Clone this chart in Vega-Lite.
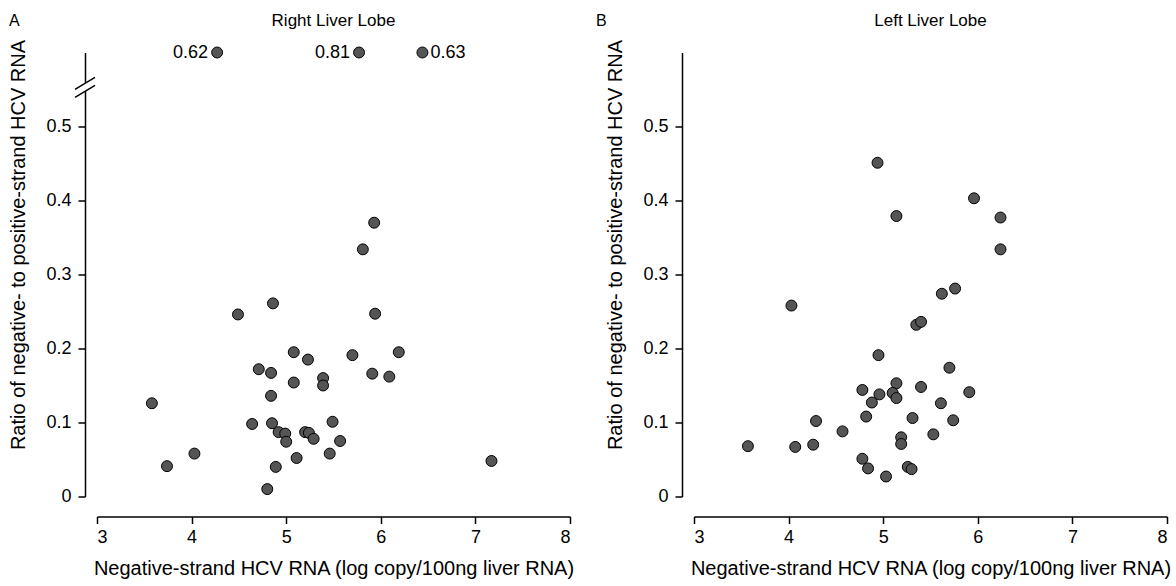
{
  "$schema": "https://vega.github.io/schema/vega-lite/v6.json",
  "padding": {"left": 8, "top": 11.5, "right": 5, "bottom": 2},
  "autosize": {"type": "pad"},
  "spacing": 20,
  "config": {
    "font": "Liberation Sans",
    "view": {"stroke": null},
    "axis": {
      "domainColor": "#000", "tickColor": "#000", "labelColor": "#000", "titleColor": "#000",
      "domainWidth": 1.5, "tickWidth": 1.5, "grid": false,
      "labelFontSize": 18, "titleFontSize": 20, "titleFontWeight": "normal", "tickSize": 7,
      "labelFont": "Liberation Sans", "titleFont": "Liberation Sans"
    },
    "title": {"fontWeight": "normal", "color": "#000", "font": "Liberation Sans"}
  },
  "datasets": {
    "right": [
      {"x": 5.93, "ratio": 0.370}, {"x": 5.81, "ratio": 0.334}, {"x": 4.86, "ratio": 0.261},
      {"x": 4.49, "ratio": 0.246}, {"x": 5.94, "ratio": 0.247}, {"x": 5.08, "ratio": 0.195},
      {"x": 5.23, "ratio": 0.185}, {"x": 5.70, "ratio": 0.191}, {"x": 4.71, "ratio": 0.172},
      {"x": 4.84, "ratio": 0.167}, {"x": 5.91, "ratio": 0.166}, {"x": 6.19, "ratio": 0.195},
      {"x": 6.09, "ratio": 0.162}, {"x": 5.08, "ratio": 0.154}, {"x": 5.39, "ratio": 0.160},
      {"x": 5.39, "ratio": 0.150}, {"x": 4.84, "ratio": 0.136}, {"x": 3.58, "ratio": 0.126},
      {"x": 4.64, "ratio": 0.098}, {"x": 4.85, "ratio": 0.099}, {"x": 4.92, "ratio": 0.087},
      {"x": 4.99, "ratio": 0.085}, {"x": 5.00, "ratio": 0.074}, {"x": 5.20, "ratio": 0.087},
      {"x": 5.24, "ratio": 0.086}, {"x": 5.29, "ratio": 0.078}, {"x": 5.49, "ratio": 0.101},
      {"x": 5.57, "ratio": 0.075}, {"x": 5.46, "ratio": 0.058}, {"x": 4.03, "ratio": 0.058},
      {"x": 3.74, "ratio": 0.041}, {"x": 5.11, "ratio": 0.052}, {"x": 4.89, "ratio": 0.040},
      {"x": 4.80, "ratio": 0.010}, {"x": 7.17, "ratio": 0.048}
    ],
    "rightOff": [
      {"x": 4.27, "ratio": 0.62}, {"x": 5.77, "ratio": 0.81}, {"x": 6.44, "ratio": 0.63}
    ],
    "left": [
      {"x": 4.94, "ratio": 0.451}, {"x": 5.14, "ratio": 0.379}, {"x": 4.03, "ratio": 0.258},
      {"x": 5.96, "ratio": 0.403}, {"x": 6.24, "ratio": 0.377}, {"x": 6.24, "ratio": 0.334},
      {"x": 5.76, "ratio": 0.281}, {"x": 5.62, "ratio": 0.274}, {"x": 5.35, "ratio": 0.232},
      {"x": 5.40, "ratio": 0.236}, {"x": 4.95, "ratio": 0.191}, {"x": 5.70, "ratio": 0.174},
      {"x": 5.14, "ratio": 0.153}, {"x": 5.40, "ratio": 0.148}, {"x": 5.91, "ratio": 0.141},
      {"x": 5.10, "ratio": 0.140}, {"x": 5.14, "ratio": 0.133}, {"x": 5.61, "ratio": 0.126},
      {"x": 4.78, "ratio": 0.144}, {"x": 4.96, "ratio": 0.138}, {"x": 4.88, "ratio": 0.127},
      {"x": 5.31, "ratio": 0.106}, {"x": 5.74, "ratio": 0.103}, {"x": 4.82, "ratio": 0.108},
      {"x": 4.29, "ratio": 0.102}, {"x": 5.53, "ratio": 0.084}, {"x": 5.19, "ratio": 0.080},
      {"x": 5.19, "ratio": 0.071}, {"x": 4.57, "ratio": 0.088}, {"x": 3.57, "ratio": 0.068},
      {"x": 4.07, "ratio": 0.067}, {"x": 4.26, "ratio": 0.070}, {"x": 4.78, "ratio": 0.051},
      {"x": 4.84, "ratio": 0.038}, {"x": 5.26, "ratio": 0.040}, {"x": 5.30, "ratio": 0.037},
      {"x": 5.03, "ratio": 0.027}
    ]
  },
  "hconcat": [
    {
      "title": {"text": "A", "anchor": "start", "frame": "bounds", "fontSize": 16, "offset": -17},
      "vconcat": [
        {
          "width": 473, "height": 444,
          "title": {"text": "Right Liver Lobe", "fontSize": 17, "offset": 9},
          "layer": [
            {
              "data": {"name": "right"},
              "mark": {"type": "point", "filled": true, "size": 120, "fill": "#555", "stroke": "#000", "strokeWidth": 1, "opacity": 1},
              "encoding": {
                "x": {"field": "x", "type": "quantitative", "scale": {"domain": [3, 8], "nice": false},
                  "title": "Negative-strand HCV RNA (log copy/100ng liver RNA)",
                  "axis": {"values": [3, 4, 5, 6, 7, 8], "format": "d", "offset": 20, "labelPadding": 5, "titlePadding": 12}},
                "y": {"field": "ratio", "type": "quantitative", "scale": {"domain": [0, 0.6], "nice": false},
                  "title": "Ratio of negative- to positive-strand HCV RNA",
                  "axis": {"values": [0, 0.1, 0.2, 0.3, 0.4, 0.5], "labelExpr": "datum.value == 0 ? '0' : format(datum.value, '.1f')", "offset": 12, "labelPadding": 7, "titlePadding": 17, "titleY": 192}}
              }
            },
            {
              "data": {"name": "rightOff"},
              "mark": {"type": "point", "filled": true, "size": 120, "fill": "#555", "stroke": "#000", "strokeWidth": 1, "opacity": 1},
              "encoding": {
                "x": {"field": "x", "type": "quantitative", "title": "Negative-strand HCV RNA (log copy/100ng liver RNA)"},
                "y": {"datum": 0.6, "title": "Ratio of negative- to positive-strand HCV RNA"}
              }
            },
            {
              "data": {"name": "rightOff"},
              "transform": [{"filter": "datum.x < 6"}],
              "mark": {"type": "text", "align": "right", "baseline": "middle", "dx": -9, "fontSize": 18, "color": "#000"},
              "encoding": {
                "x": {"field": "x", "type": "quantitative", "title": "Negative-strand HCV RNA (log copy/100ng liver RNA)"},
                "y": {"datum": 0.6, "title": "Ratio of negative- to positive-strand HCV RNA"},
                "text": {"field": "ratio", "type": "quantitative", "format": ".2f"}
              }
            },
            {
              "data": {"name": "rightOff"},
              "transform": [{"filter": "datum.x >= 6"}],
              "mark": {"type": "text", "align": "left", "baseline": "middle", "dx": 8, "fontSize": 18, "color": "#000"},
              "encoding": {
                "x": {"field": "x", "type": "quantitative", "title": "Negative-strand HCV RNA (log copy/100ng liver RNA)"},
                "y": {"datum": 0.6, "title": "Ratio of negative- to positive-strand HCV RNA"},
                "text": {"field": "ratio", "type": "quantitative", "format": ".2f"}
              }
            },
            {
              "data": {"values": [{}]},
              "mark": {"type": "point", "shape": "M-1,1L1,-0.2L1,-1L-1,0.2Z", "size": 400, "filled": true, "fill": "#fff", "strokeWidth": 0, "opacity": 1, "xOffset": -12},
              "encoding": {
                "x": {"datum": 3, "title": "Negative-strand HCV RNA (log copy/100ng liver RNA)"},
                "y": {"datum": 0.553, "title": "Ratio of negative- to positive-strand HCV RNA"}
              }
            },
            {
              "data": {"values": [{}]},
              "mark": {"type": "point", "shape": "M-1,1L1,-0.2M-1,0.2L1,-1", "size": 400, "filled": false, "stroke": "#000", "strokeWidth": 1.5, "opacity": 1, "xOffset": -12},
              "encoding": {
                "x": {"datum": 3, "title": "Negative-strand HCV RNA (log copy/100ng liver RNA)"},
                "y": {"datum": 0.553, "title": "Ratio of negative- to positive-strand HCV RNA"}
              }
            }
          ]
        }
      ]
    },
    {
      "title": {"text": "B", "anchor": "start", "frame": "bounds", "fontSize": 16, "offset": -17, "dx": -10},
      "vconcat": [
        {
          "width": 473, "height": 444,
          "title": {"text": "Left Liver Lobe", "fontSize": 17, "offset": 9},
          "data": {"name": "left"},
          "mark": {"type": "point", "filled": true, "size": 120, "fill": "#555", "stroke": "#000", "strokeWidth": 1, "opacity": 1},
          "encoding": {
            "x": {"field": "x", "type": "quantitative", "scale": {"domain": [3, 8], "nice": false},
              "title": "Negative-strand HCV RNA (log copy/100ng liver RNA)",
              "axis": {"values": [3, 4, 5, 6, 7, 8], "format": "d", "offset": 20, "labelPadding": 5, "titlePadding": 12}},
            "y": {"field": "ratio", "type": "quantitative", "scale": {"domain": [0, 0.6], "nice": false},
              "title": "Ratio of negative- to positive-strand HCV RNA",
              "axis": {"values": [0, 0.1, 0.2, 0.3, 0.4, 0.5], "labelExpr": "datum.value == 0 ? '0' : format(datum.value, '.1f')", "offset": 12, "labelPadding": 7, "titlePadding": 17, "titleY": 192}}
          }
        }
      ]
    }
  ]
}
